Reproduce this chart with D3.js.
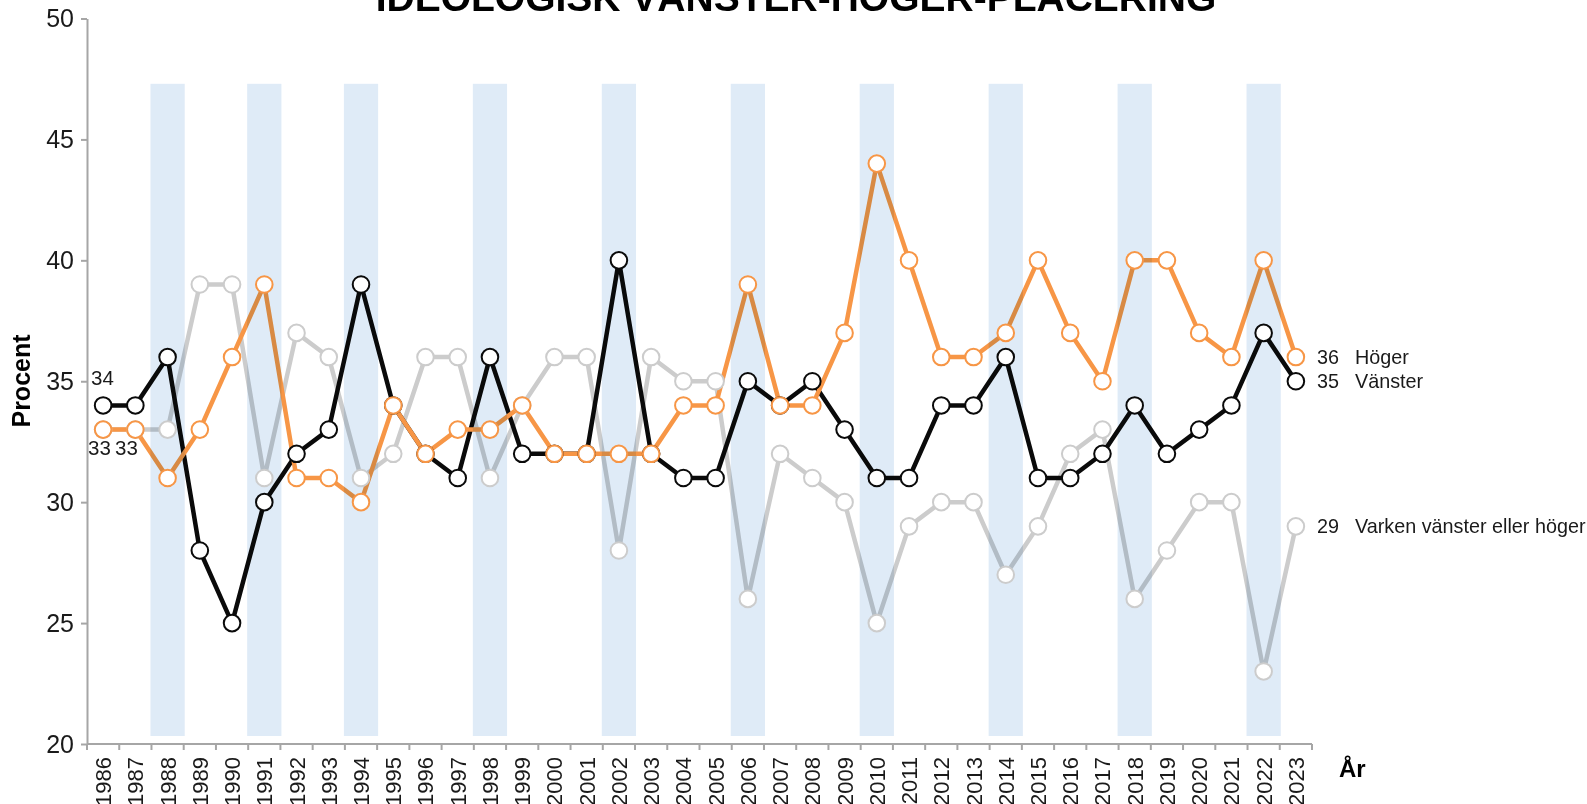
<!DOCTYPE html>
<html>
<head>
<meta charset="utf-8">
<style>
    body { margin: 0; background: #fff; }
    text { font-family: "Liberation Sans", Arial, sans-serif; }
    .axis path, .axis line { stroke: #a6a6a6; stroke-width: 2; }
    .axis text { fill: #1a1a1a; }
</style>
<script src="https://cdn.jsdelivr.net/npm/d3@7"></script>
</head>
<body>
<svg id="chart" width="1587" height="804"></svg>
<script>
var years = d3.range(1986, 2024)
var valar = [1988, 1991, 1994, 1998, 2002, 2006, 2010, 2014, 2018, 2022]

var vanster = [34, 34, 36, 28, 25, 30, 32, 33, 39, 34, 32, 31, 36, 32, 32, 32, 40, 32, 31, 31,
               35, 34, 35, 33, 31, 31, 34, 34, 36, 31, 31, 32, 34, 32, 33, 34, 37, 35]
var hoger = [33, 33, 31, 33, 36, 39, 31, 31, 30, 34, 32, 33, 33, 34, 32, 32, 32, 32, 34, 34,
             39, 34, 34, 37, 44, 40, 36, 36, 37, 40, 37, 35, 40, 40, 37, 36, 40, 36]
var varken = [33, 33, 33, 39, 39, 31, 37, 36, 31, 32, 36, 36, 31, 34, 36, 36, 28, 36, 35, 35,
              26, 32, 31, 30, 25, 29, 30, 30, 27, 29, 32, 33, 26, 28, 30, 30, 23, 29]

var yTicks = [20, 25, 30, 35, 40, 45, 50]

var series = [
    {name: "Varken vänster eller höger", values: varken, color: "#cccccc"},
    {name: "Vänster", values: vanster, color: "#0a0a0a"},
    {name: "Höger", values: hoger, color: "#f79646"}
]

var svg = d3.select("#chart")

var x = d3.scaleBand().domain(years).range([87, 1312]).padding(0)
var y = d3.scaleLinear().domain([20, 50]).range([744, 18.5])
var cx = function(yr) { return x(yr) + x.bandwidth() / 2 }

// titel (klipps i överkant som i originalet)
svg.append("text")
    .attr("x", 796).attr("y", 11)
    .attr("text-anchor", "middle")
    .attr("font-size", "39px")
    .attr("font-weight", "bold")
    .text("IDEOLOGISK VÄNSTER-HÖGER-PLACERING")

// y-axel
var yg = svg.append("g")
    .attr("class", "axis")
    .attr("transform", "translate(87,0)")
    .call(d3.axisLeft(y).tickValues(yTicks).tickSize(6).tickSizeOuter(0).tickPadding(7))
yg.selectAll("text").attr("font-size", "25px")

// x-axel, streck mellan åren
var xg = svg.append("g").attr("class", "axis")
xg.append("line")
    .attr("x1", 87).attr("x2", 1312)
    .attr("y1", y(20)).attr("y2", y(20))
xg.selectAll(".tk")
    .data(years.concat([2024]))
    .join("line")
    .attr("class", "tk")
    .attr("x1", function(d) { return d == 2024 ? 1312 : x(d) })
    .attr("x2", function(d) { return d == 2024 ? 1312 : x(d) })
    .attr("y1", y(20)).attr("y2", y(20) + 6)
xg.selectAll(".yr")
    .data(years)
    .join("text")
    .attr("class", "yr")
    .attr("font-size", "22px")
    .attr("transform", function(d) { return "translate(" + (cx(d) + 8) + "," + (y(20) + 13) + ") rotate(-90)" })
    .attr("text-anchor", "end")
    .text(function(d) { return d })

svg.append("text")
    .attr("x", 1339).attr("y", 777)
    .attr("font-size", "24px").attr("font-weight", "bold")
    .text("År")

svg.append("text")
    .attr("transform", "translate(30,381) rotate(-90)")
    .attr("text-anchor", "middle")
    .attr("font-size", "25px").attr("font-weight", "bold")
    .text("Procent")

var line = d3.line()
    .x(function(d, i) { return cx(years[i]) })
    .y(function(d) { return y(d) })

// linjer
svg.selectAll(".serie")
    .data(series)
    .join("path")
    .attr("class", "serie")
    .attr("d", function(s) { return line(s.values) })
    .attr("fill", "none")
    .attr("stroke", function(s) { return s.color })
    .attr("stroke-width", 4.5)
    .attr("stroke-linejoin", "round")

// valår ovanpå linjerna
svg.selectAll(".val")
    .data(valar)
    .join("rect")
    .attr("class", "val")
    .attr("x", function(d) { return x(d) - 1 })
    .attr("width", x.bandwidth() + 2)
    .attr("y", y(47.3))
    .attr("height", y(20.33) - y(47.3))
    .attr("fill", "#dfebf7")
    .style("mix-blend-mode", "multiply")

// punkter
series.forEach(function(s) {
    svg.append("g")
        .selectAll("circle")
        .data(s.values)
        .join("circle")
        .attr("cx", function(d, i) { return cx(years[i]) })
        .attr("cy", function(d) { return y(d) })
        .attr("r", 8.3)
        .attr("fill", "#fff")
        .attr("stroke", s.color)
        .attr("stroke-width", 2)
})

// etiketter till höger
var last = years.length - 1
series.forEach(function(s) {
    var ty = y(s.values[last]) + 7
    svg.append("text").attr("x", 1317).attr("y", ty)
        .attr("font-size", "19.8px").attr("fill", "#1a1a1a")
        .text(s.values[last])
    svg.append("text").attr("x", 1355).attr("y", ty)
        .attr("font-size", "19.8px").attr("fill", "#1a1a1a")
        .text(s.name)
})

// startvärden
svg.append("text").attr("x", 91).attr("y", y(vanster[0]) - 20)
    .attr("font-size", "20.5px").attr("fill", "#1a1a1a").text(vanster[0])
svg.append("text").attr("x", 88).attr("y", y(hoger[0]) + 25)
    .attr("font-size", "20.5px").attr("fill", "#1a1a1a").text(hoger[0])
svg.append("text").attr("x", 115).attr("y", y(varken[0]) + 25)
    .attr("font-size", "20.5px").attr("fill", "#1a1a1a").text(varken[0])
</script>
</body>
</html>
